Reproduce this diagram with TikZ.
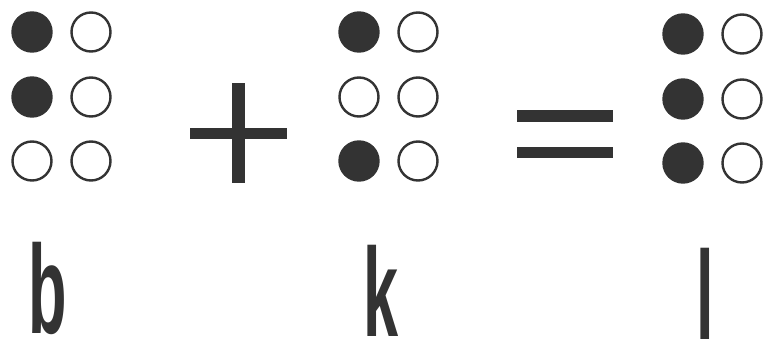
\documentclass[tikz,border=0pt]{standalone}
\usepackage{fontspec}
\setmainfont{Liberation Sans}
\usepackage{tikz}

\definecolor{inkgray}{HTML}{333333}

\tikzset{
    dot/.style={circle, draw=inkgray, line width=2.4pt, minimum size=39pt, inner sep=0pt},
    raised/.style={dot, fill=inkgray},
    letter/.style={font=\fontsize{126}{126}\bfseries\selectfont, text=inkgray,
        inner sep=0pt, text depth=0pt, anchor=base, xscale=0.5},
    bar/.style={fill=inkgray}
}

\begin{document}
\begin{tikzpicture}[x=1pt, y=-1pt]
    \useasboundingbox (0, 0) rectangle (764, 342);

    % The three Braille cells (left column varies, right column empty)
    \foreach \cell/\x/\y/\one/\two/\three in {b/32/32/raised/raised/dot,
            k/359/32/raised/dot/raised, l/683/34/raised/raised/raised} {
        \node[\one] (\cell1) at (\x, \y) {};
        \node[\two] (\cell2) at (\x, \y+65) {};
        \node[\three] (\cell3) at (\x, \y+129) {};
        \node[dot] (\cell4) at (\x+59, \y) {};
        \node[dot] (\cell5) at (\x+59, \y+65) {};
        \node[dot] (\cell6) at (\x+59, \y+129) {};
    }

    % Plus sign
    \fill[bar] (190, 128) rectangle (287, 139);
    \fill[bar] (232, 83) rectangle (245, 183);

    % Equals sign
    \fill[bar] (517, 110) rectangle (613, 122);
    \fill[bar] (517, 147) rectangle (613, 158);

    % Letters under the cells
    \node[letter] (letterb) at (48, 334) {b};
    \node[letter] (letterk) at (381, 336) {k};
    \node[letter] (letterl) at (705, 339) {l};
\end{tikzpicture}
\end{document}
